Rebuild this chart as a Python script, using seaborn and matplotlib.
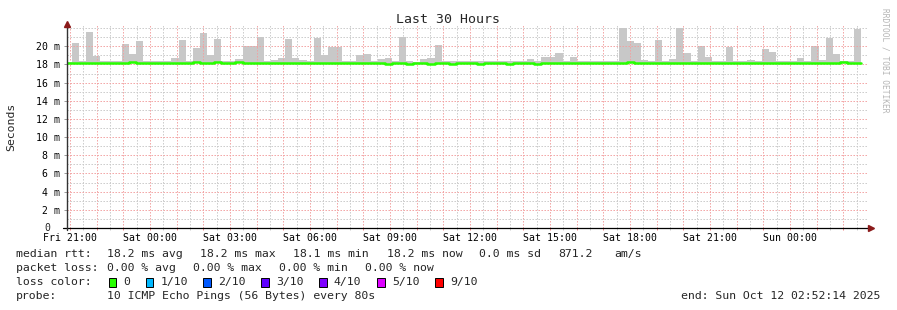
import numpy as np
import pandas as pd
import matplotlib
matplotlib.use("Agg")
import matplotlib.pyplot as plt
import matplotlib.dates as mdates
from matplotlib.ticker import FixedLocator, FuncFormatter
from matplotlib.patches import Rectangle
import seaborn as sns

# ---------------- data ----------------
col_start = "2025-10-10 20:48:00"      # first 16-minute consolidation column
n_cols = 112
view_start = "2025-10-10 20:52:14"
view_end = "2025-10-12 02:52:14"

# maximum rtt of each column (ms) -> top of the grey smoke
smoke_max = [
    18.30, 20.37, 18.35, 21.59, 18.92, 18.37, 18.37, 18.37, 20.26, 19.14,
    20.59, 18.35, 18.35, 18.35, 18.35, 18.70, 20.70, 18.35, 19.81, 21.48,
    19.03, 20.81, 18.35, 18.37, 18.59, 20.03, 20.03, 21.03, 18.37, 18.48,
    18.70, 20.81, 18.70, 18.48, 18.35, 20.92, 19.03, 19.92, 19.92, 18.35,
    18.35, 19.03, 19.14, 18.35, 18.59, 18.70, 18.35, 21.03, 18.37, 18.30,
    18.59, 18.70, 20.14, 18.37, 18.37, 18.35, 18.37, 18.35, 18.35, 18.37,
    18.35, 18.37, 18.35, 18.35, 18.37, 18.59, 18.35, 18.81, 18.81, 19.25,
    18.35, 18.81, 18.37, 18.35, 18.35, 18.35, 18.35, 18.35, 22.03, 20.59,
    20.37, 18.48, 18.37, 20.70, 18.35, 18.59, 22.03, 19.25, 18.35, 20.03,
    18.81, 18.37, 18.37, 19.92, 18.35, 18.35, 18.48, 18.35, 19.70, 19.37,
    18.35, 18.35, 18.37, 18.70, 18.35, 20.03, 18.48, 20.92, 19.14, 18.37,
    18.35, 21.92,
]
# median rtt of each column (ms)
median_rtt = [
    18.2, 18.2, 18.2, 18.2, 18.2, 18.2, 18.2, 18.2, 18.2, 18.3,
    18.2, 18.2, 18.2, 18.2, 18.2, 18.2, 18.2, 18.2, 18.3, 18.2,
    18.2, 18.3, 18.2, 18.2, 18.3, 18.2, 18.2, 18.2, 18.2, 18.2,
    18.2, 18.2, 18.2, 18.2, 18.2, 18.2, 18.2, 18.2, 18.2, 18.2,
    18.2, 18.2, 18.2, 18.2, 18.2, 18.0, 18.2, 18.2, 18.0, 18.2,
    18.2, 18.0, 18.2, 18.2, 18.0, 18.2, 18.2, 18.2, 18.0, 18.2,
    18.2, 18.2, 18.0, 18.2, 18.2, 18.2, 18.0, 18.2, 18.2, 18.2,
    18.2, 18.2, 18.2, 18.2, 18.2, 18.2, 18.2, 18.2, 18.2, 18.3,
    18.2, 18.2, 18.2, 18.2, 18.2, 18.2, 18.2, 18.2, 18.2, 18.2,
    18.2, 18.2, 18.2, 18.2, 18.2, 18.2, 18.2, 18.2, 18.2, 18.2,
    18.2, 18.2, 18.2, 18.2, 18.2, 18.2, 18.2, 18.2, 18.2, 18.3,
    18.2, 18.2,
]
y_ticks = [0, 2, 4, 6, 8, 10, 12, 14, 16, 18, 20]
y_minor = [1, 3, 5, 7, 9, 11, 13, 15, 17, 19, 21, 22]

loss_labels = ["0", "1/10", "2/10", "3/10", "4/10", "5/10", "9/10"]
loss_colors = ["#26ff00", "#00b8ff", "#0059ff", "#5e00ff", "#7e00ff", "#dd00ff", "#ff0000"]

median_stats = ["18.2 ms avg", "18.2 ms max", "18.1 ms min", "18.2 ms now", "0.0 ms sd", "871.2", "am/s"]
loss_stats = ["0.00 % avg", "0.00 % max", "0.00 % min", "0.00 % now"]

# ---------------- figure ----------------
W, H = 897, 310
sns.set_theme(style="white")
plt.rcParams["font.family"] = ["DejaVu Sans Mono", "DejaVu Sans"]

fig = plt.figure(figsize=(W / 100, H / 100), dpi=100)
fig.patch.set_facecolor("white")
ax = fig.add_axes([66.7 / W, 1 - 228 / H, 800 / W, 203 / H])
ax.set_facecolor("white")

edges = pd.date_range(col_start, periods=n_cols + 1, freq="16min").to_numpy()
med_ext = np.array(median_rtt + [median_rtt[-1]])
max_ext = np.array(smoke_max + [smoke_max[-1]])

ax.fill_between(edges, med_ext, max_ext, step="post", color="#c8c8c8",
                linewidth=0, zorder=1)
df = pd.DataFrame({"t": edges, "median": med_ext})
sns.lineplot(data=df, x="t", y="median", drawstyle="steps-post", color="#26ff00",
             linewidth=1.8, ax=ax, zorder=4)

ax.set_xlim(pd.Timestamp(view_start), pd.Timestamp(view_end))
ax.set_ylim(0, 22.34)
ax.set_xlabel("")
ax.set_ylabel("")

# grid
ax.xaxis.set_major_locator(mdates.HourLocator())
ax.xaxis.set_minor_locator(mdates.MinuteLocator(byminute=[30]))


def xfmt(v, pos):
    d = mdates.num2date(v)
    return d.strftime("%a %H:%M") if d.hour % 3 == 0 else ""


ax.xaxis.set_major_formatter(FuncFormatter(xfmt))
ax.yaxis.set_major_locator(FixedLocator(y_ticks))
ax.yaxis.set_minor_locator(FixedLocator(y_minor))
ax.yaxis.set_major_formatter(FuncFormatter(lambda v, p: "" if v == 0 else f"{int(v)} m"))

ax.set_axisbelow(False)
ax.grid(True, which="major", color="#f2a0a0", linestyle=(0, (1.4, 1.6)), linewidth=0.72, zorder=2)
ax.grid(True, which="minor", color="#c9c9c9", linestyle=(0, (1.4, 1.6)), linewidth=0.72, zorder=2)

for s in ax.spines.values():
    s.set_visible(False)

ax.tick_params(axis="x", which="major", length=1.6, width=0.7, color="#f08080",
               pad=2.0, labelsize=7.1, labelcolor="black", bottom=True)
ax.tick_params(axis="x", which="minor", length=1.2, width=0.7, color="#cccccc", bottom=True)
ax.tick_params(axis="y", which="major", length=2.2, width=0.7, color="#999999",
               pad=2.7, labelsize=7.1, labelcolor="black", left=True)
ax.tick_params(axis="y", which="minor", length=0, left=False)

# axis lines and arrows
ax.plot([-0.0046, 1.0026], [0, 0], transform=ax.transAxes, color="black", lw=0.9,
        clip_on=False, zorder=7)
ax.plot([0, 0], [-0.01, 1.005], transform=ax.transAxes, color="#333333", lw=1.0,
        clip_on=False, zorder=7)
ax.plot([0], [1.0064], transform=ax.transAxes, marker="^", markersize=3.8,
        color="#8b1a1a", clip_on=False, zorder=8, linestyle="none")
ax.plot([1.0054], [0], transform=ax.transAxes, marker=">", markersize=3.8,
        color="#8b1a1a", clip_on=False, zorder=8, linestyle="none")


def fx(x):
    return x / W


def fy(y):
    return 1 - y / H


# y label "0"
fig.text(fx(50), fy(228), "0", ha="right", va="center", fontsize=7.1)

# title, y label, watermark
fig.text(fx(447.5), fy(19.5), "Last 30 Hours", ha="center", va="center", fontsize=9.5)
fig.text(fx(11), fy(127), "Seconds", rotation=90, ha="center", va="center", fontsize=8.25)
fig.text(fx(885), fy(60), "RRDTOOL / TOBI OETIKER", rotation=270, ha="center", va="center",
         fontsize=5.7, color="#b5b5b5")

# legend / stats
fs = 8.25
row_y = [254, 268, 282, 296]
fig.text(fx(16), fy(row_y[0]), "median rtt:", ha="left", va="center", fontsize=fs)
for xp, s in zip([107.3, 200, 293.3, 386.7, 479, 558, 614], median_stats):
    fig.text(fx(xp), fy(row_y[0]), s, ha="left", va="center", fontsize=fs)

fig.text(fx(16), fy(row_y[1]), "packet loss:", ha="left", va="center", fontsize=fs)
for xp, s in zip([107.3, 193.3, 279.3, 365.3], loss_stats):
    fig.text(fx(xp), fy(row_y[1]), s, ha="left", va="center", fontsize=fs)

fig.text(fx(16), fy(row_y[2]), "loss color:", ha="left", va="center", fontsize=fs)
box_x = [108.7, 145.7, 203.3, 261.3, 319, 377.3, 435.3]
for bx, lab, col in zip(box_x, loss_labels, loss_colors):
    fig.patches.append(Rectangle((fx(bx), fy(286.5)), 7.5 / W, 8.5 / H, transform=fig.transFigure,
                                 facecolor=col, edgecolor="black", linewidth=0.7))
    fig.text(fx(bx + 14.6), fy(row_y[2]), lab, ha="left", va="center", fontsize=fs)

fig.text(fx(16), fy(row_y[3]), "probe:", ha="left", va="center", fontsize=fs)
fig.text(fx(107.3), fy(row_y[3]), "10 ICMP Echo Pings (56 Bytes) every 80s", ha="left",
         va="center", fontsize=fs)
fig.text(fx(880), fy(row_y[3]), "end: Sun Oct 12 02:52:14 2025", ha="right", va="center",
         fontsize=fs)

fig.savefig("out.png", dpi=100, facecolor="white")
